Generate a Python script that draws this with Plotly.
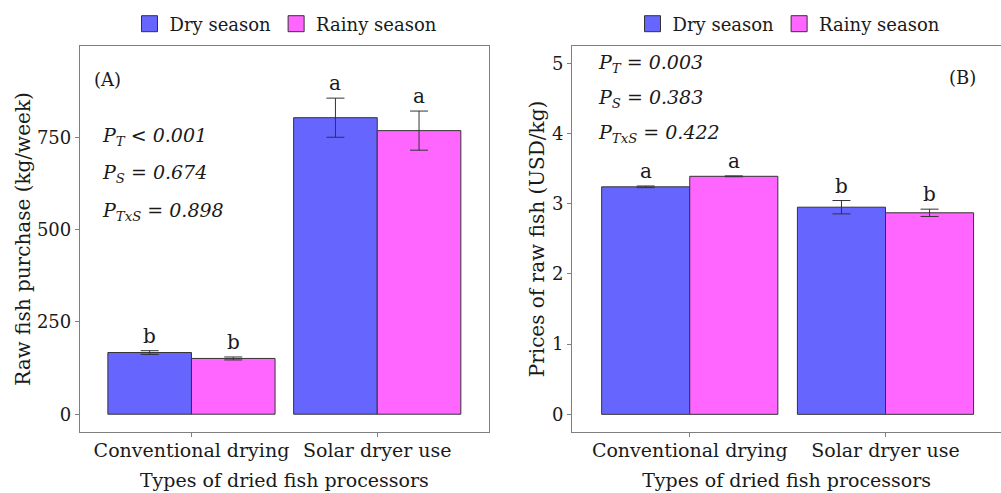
import plotly.graph_objects as go

categories = ["Conventional drying", "Solar dryer use"]
seasons = ["Dry season", "Rainy season"]
colors = ["#6666FF", "#FF66FF"]

# Panel A: raw fish purchase (kg/week)
purchase_dry = [167, 803]
purchase_rainy = [151, 768]
purchase_dry_err = [5, 53]
purchase_rainy_err = [4, 53]
purchase_letters_dry = ["b", "a"]
purchase_letters_rainy = ["b", "a"]

# Panel B: prices of raw fish (USD/kg)
price_dry = [3.24, 2.95]
price_rainy = [3.39, 2.87]
price_dry_err = [0.012, 0.095]
price_rainy_err = [0.006, 0.052]
price_letters_dry = ["a", "b"]
price_letters_rainy = ["a", "b"]

stats_A = ["<i>P<sub>T</sub> &lt; 0.001</i>", "<i>P<sub>S</sub> = 0.674</i>", "<i>P<sub>TxS</sub> = 0.898</i>"]
stats_B = ["<i>P<sub>T</sub> = 0.003</i>", "<i>P<sub>S</sub> = 0.383</i>", "<i>P<sub>TxS</sub> = 0.422</i>"]

FONT = "DejaVu Serif"
TXT = "#1a1a1a"
FS = 18

fig = go.Figure()

def add_panel(xa, ya, legend, dry, rainy, dry_err, rainy_err):
    for name, vals, errs, col in [(seasons[0], dry, dry_err, colors[0]),
                                  (seasons[1], rainy, rainy_err, colors[1])]:
        fig.add_trace(go.Bar(
            x=categories, y=vals, name=name, xaxis=xa, yaxis=ya, showlegend=False,
            marker=dict(color=col, line=dict(color="#333333", width=1)),
            error_y=dict(type="data", array=errs, visible=True, color="#333333",
                         thickness=1, width=9),
        ))
    # legend entries with larger square swatches
    for name, col in zip(seasons, colors):
        fig.add_trace(go.Scatter(
            x=[None], y=[None], mode="markers", name=name, xaxis=xa, yaxis=ya, legend=legend,
            marker=dict(symbol="square", size=16, color=col, line=dict(color="#333333", width=1)),
        ))

add_panel("x", "y", "legend", purchase_dry, purchase_rainy, purchase_dry_err, purchase_rainy_err)
add_panel("x2", "y2", "legend2", price_dry, price_rainy, price_dry_err, price_rainy_err)

H = 493
def ydom(top, bot):
    return [(H - bot) / H, (H - top) / H]

W = 1001
axis_common = dict(showgrid=False, zeroline=False, showline=True, mirror=True,
                   linecolor="#7f7f7f", linewidth=1.3, ticks="outside", ticklen=4,
                   tickcolor="#7f7f7f", tickfont=dict(family=FONT, size=FS, color=TXT))
xtick_font = dict(family=FONT, size=FS + 1, color=TXT)
title_font = dict(family=FONT, size=FS + 1, color=TXT)
ytitle_font = dict(family=FONT, size=FS + 2, color=TXT)

xcommon = dict(axis_common)
xcommon["tickfont"] = xtick_font
xcommon["ticklabelstandoff"] = -3

fig.update_layout(
    width=W, height=H,
    margin=dict(l=0, r=0, t=0, b=0),
    paper_bgcolor="white", plot_bgcolor="white",
    barmode="group", bargap=0.1, bargroupgap=0,
    font=dict(family=FONT, color=TXT),
    xaxis=dict(domain=[80 / W, 488.7 / W], range=[-0.6, 1.6], anchor="y",
               title=dict(text="Types of dried fish processors", font=title_font, standoff=13),
               **xcommon),
    yaxis=dict(domain=ydom(45.7, 432.3), range=[-49, 998], anchor="x",
               tickvals=[0, 250, 500, 750],
               title=dict(text="Raw fish purchase (kg/week)", font=ytitle_font, standoff=0),
               **axis_common),
    xaxis2=dict(domain=[572.3 / W, 1.0], range=[-0.6, 1.59], anchor="y2",
                title=dict(text="Types of dried fish processors", font=title_font, standoff=13),
                **xcommon),
    yaxis2=dict(domain=ydom(45.7, 432.3), range=[-0.256, 5.25], anchor="x2",
                tickvals=[0, 1, 2, 3, 4, 5],
                title=dict(text="Prices of raw fish (USD/kg)", font=ytitle_font, standoff=2),
                **axis_common),
    legend=dict(orientation="h", x=286 / W, xanchor="center", y=(H - 24) / H, yanchor="middle",
                font=dict(family=FONT, size=FS, color=TXT), itemwidth=30, tracegroupgap=0,
                itemsizing="trace", bgcolor="rgba(0,0,0,0)"),
    legend2=dict(orientation="h", x=789 / W, xanchor="center", y=(H - 24) / H, yanchor="middle",
                 font=dict(family=FONT, size=FS, color=TXT), itemwidth=30, tracegroupgap=0,
                 itemsizing="trace", bgcolor="rgba(0,0,0,0)"),
)

# Significance letters above error bars
def letters(xa, ya, vals, errs, labs, offset):
    for i, (v, e, l) in enumerate(zip(vals, errs, labs)):
        fig.add_annotation(x=i + offset, y=v + e, xref=xa, yref=ya, text=l, showarrow=False,
                           yanchor="bottom", yshift=1, font=dict(family=FONT, size=FS + 2, color=TXT))

letters("x", "y", purchase_dry, purchase_dry_err, purchase_letters_dry, -0.225)
letters("x", "y", purchase_rainy, purchase_rainy_err, purchase_letters_rainy, 0.225)
letters("x2", "y2", price_dry, price_dry_err, price_letters_dry, -0.225)
letters("x2", "y2", price_rainy, price_rainy_err, price_letters_rainy, 0.225)

# Statistics text
for i, s in enumerate(stats_A):
    fig.add_annotation(x=100 / W, y=(H - (137 + 37 * i)) / H, xref="paper", yref="paper", text=s,
                       showarrow=False, xanchor="left", yanchor="middle",
                       font=dict(family=FONT, size=FS + 1, color=TXT))
for i, s in enumerate(stats_B):
    fig.add_annotation(x=596 / W, y=(H - (63 + 35.5 * i)) / H, xref="paper", yref="paper", text=s,
                       showarrow=False, xanchor="left", yanchor="middle",
                       font=dict(family=FONT, size=FS + 1, color=TXT))

fig.add_annotation(x=92 / W, y=(H - 79) / H, xref="paper", yref="paper", text="(A)", showarrow=False,
                   xanchor="left", yanchor="middle", font=dict(family=FONT, size=FS, color=TXT))
fig.add_annotation(x=978 / W, y=(H - 77) / H, xref="paper", yref="paper", text="(B)", showarrow=False,
                   xanchor="right", yanchor="middle", font=dict(family=FONT, size=FS, color=TXT))

fig.write_html("out.html", config={"displayModeBar": False},
               post_script="document.body.style.margin='0';")
